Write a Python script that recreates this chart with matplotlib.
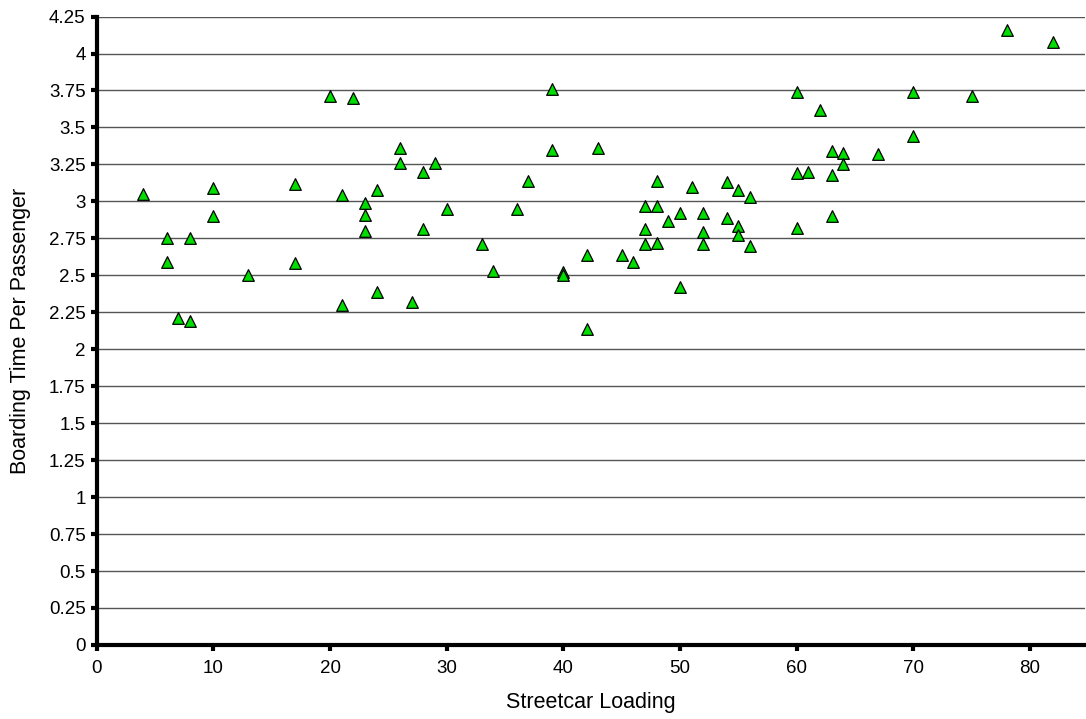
import matplotlib
matplotlib.use("Agg")
import matplotlib.pyplot as plt
from matplotlib.ticker import MultipleLocator, FuncFormatter

plt.rcParams['font.family'] = ['Liberation Sans', 'DejaVu Sans']

# streetcar loading (passengers on board)
loading = [20, 22, 26, 26, 29, 28, 4, 10, 17, 21, 24, 23, 30, 10, 23,
           6, 8, 23, 28, 6, 17, 13, 24, 21, 27, 7, 8,
           39, 39, 43, 37, 48, 51, 54, 55, 56, 36, 47, 48, 49, 50, 52,
           54, 47, 52, 55, 55, 33, 47, 48, 52, 56, 42, 45, 46, 34, 40,
           40, 50, 42,
           78, 82, 60, 70, 75, 62, 70, 63, 64, 67, 64, 60, 61, 63, 63, 60]

# boarding time per passenger (s)
board_time = [3.71, 3.70, 3.36, 3.26, 3.26, 3.20, 3.05, 3.09, 3.12, 3.04, 3.08, 2.99, 2.95, 2.90, 2.91,
              2.75, 2.75, 2.80, 2.81, 2.59, 2.58, 2.50, 2.39, 2.30, 2.32, 2.21, 2.19,
              3.76, 3.35, 3.36, 3.14, 3.14, 3.10, 3.13, 3.08, 3.03, 2.95, 2.97, 2.97, 2.87, 2.92, 2.92,
              2.89, 2.81, 2.79, 2.83, 2.77, 2.71, 2.71, 2.72, 2.71, 2.70, 2.64, 2.64, 2.59, 2.53, 2.52,
              2.50, 2.42, 2.14,
              4.16, 4.08, 3.74, 3.74, 3.71, 3.62, 3.44, 3.34, 3.33, 3.32, 3.25, 3.19, 3.20, 3.18, 2.90, 2.82]

fig = plt.figure(figsize=(10.86, 7.19), dpi=100)
ax = fig.add_axes([0.089, 0.103, 0.910, 0.874])

ax.set_xlim(0, 84.7)
ax.set_ylim(0, 4.25)
ax.yaxis.set_major_locator(MultipleLocator(0.25))
ax.xaxis.set_major_locator(MultipleLocator(10))
ax.yaxis.set_major_formatter(FuncFormatter(lambda v, p: ('%.2f' % v).rstrip('0').rstrip('.')))

# horizontal gridlines
ax.grid(axis='y', color='#555555', linewidth=1.0)
ax.set_axisbelow(True)

ax.scatter(loading, board_time, marker='^', s=70, c='#00DD00',
           edgecolors='black', linewidths=0.9, zorder=3, clip_on=False)

for s in ['top', 'right']:
    ax.spines[s].set_visible(False)
for s in ['left', 'bottom']:
    ax.spines[s].set_linewidth(3)
    ax.spines[s].set_color('black')
ax.tick_params(direction='out', length=4, width=3, labelsize=13.5)
ax.tick_params(axis='x', pad=7)
ax.tick_params(axis='y', pad=4)

ax.set_xlabel('Streetcar Loading', fontsize=15.5, labelpad=11)
ax.set_ylabel('Boarding Time Per Passenger', fontsize=15.5, labelpad=13)

fig.savefig('out.png', dpi=100)
